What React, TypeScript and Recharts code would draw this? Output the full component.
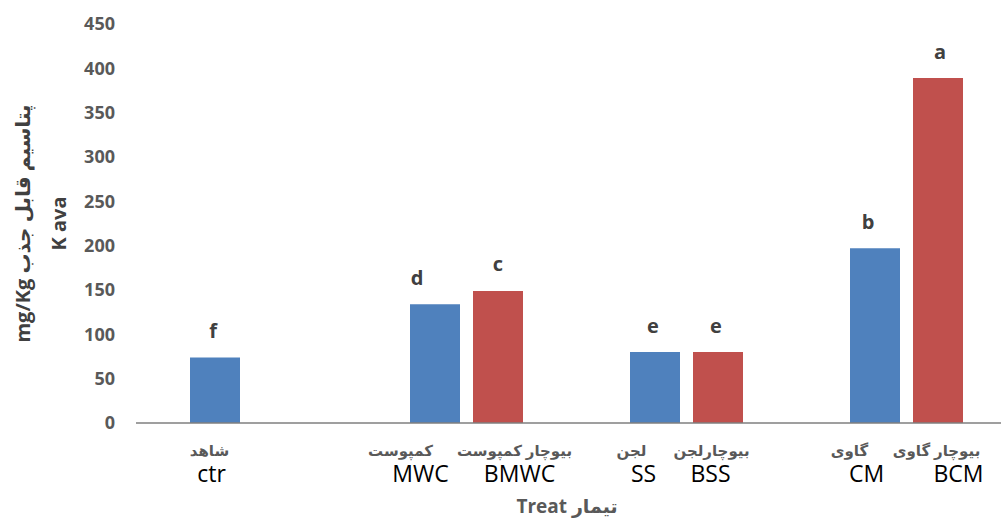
import { BarChart, Bar, XAxis, YAxis, LabelList } from 'recharts';

// treatment groups (blue = plain amendment, red = with biochar)
const groups = ['ctr', 'MWC', 'SS', 'CM'];
const blueValues = [74, 134, 80, 197];
const redValues: (number | null)[] = [null, 149, 80, 389];
const blueLetters = ['f', 'd', 'e', 'b'];
const redLetters = ['', 'c', 'e', 'a'];

const faBlue = ['شاهد', 'کمپوست', 'لجن', 'گاوی'];
const enBlue = ['ctr', 'MWC', 'SS', 'CM'];
const faRed = ['', 'بیوچار کمپوست', 'بیوچارلجن', 'بیوچار گاوی'];
const enRed = ['', 'BMWC', 'BSS', 'BCM'];

const yTicks = [0, 50, 100, 150, 200, 250, 300, 350, 400, 450];

// small hand nudges, like the manually moved labels of the original
const blueLetterDx = [-2, -18, -2, -7];
const redLetterDx = [0, -2, 2, 0];
const faBlueDx = [-5, -34, -23, -25];
const faRedDx = [0, 17, -6, -1];
const enBlueDx = [-3, -14, -11, -8];
const enRedDx = [0, 22, -7, 21];

const BLUE = '#4F81BD';
const RED = '#C0504D';
const SLOT = 31.5; // half of barSize + barGap
const FONT = '"Open Sans", "DejaVu Sans", sans-serif';

const data = groups.map((g, i) => ({
    group: g,
    blue: blueValues[i],
    red: redValues[i],
    blueLetter: blueLetters[i],
    redLetter: redLetters[i],
}));

const letterLabel = (dxs: number[]) => (props: any) => {
    const { x, y, width, value, index } = props;
    if (!value) return null;
    return (
        <text
            x={x + width / 2 + dxs[index]}
            y={y - 27}
            textAnchor="middle"
            dominantBaseline="central"
            fontFamily={FONT}
            fontWeight="bold"
            fontSize={20}
            fill="#404040"
        >
            {value}
        </text>
    );
};

const GroupTick = (props: any) => {
    const { x, y, payload } = props;
    const i = groups.indexOf(payload.value);
    if (i < 0) return null;
    const bx = x - SLOT;
    const rx = x + SLOT;
    return (
        <g>
            <text x={bx + faBlueDx[i]} y={y + 19} textAnchor="middle" dominantBaseline="central"
                fontFamily={FONT} fontWeight="bold" fontSize={15} fill="#595959">{faBlue[i]}</text>
            <text x={bx + enBlueDx[i]} y={y + 42} textAnchor="middle" dominantBaseline="central"
                fontFamily={FONT} fontSize={23} fill="#000">{enBlue[i]}</text>
            {faRed[i] && (
                <text x={rx + faRedDx[i]} y={y + 19} textAnchor="middle" dominantBaseline="central"
                    fontFamily={FONT} fontWeight="bold" fontSize={15} fill="#595959">{faRed[i]}</text>
            )}
            {enRed[i] && (
                <text x={rx + enRedDx[i]} y={y + 42} textAnchor="middle" dominantBaseline="central"
                    fontFamily={FONT} fontSize={23} fill="#000">{enRed[i]}</text>
            )}
        </g>
    );
};

const XTitle = (props: any) => {
    const { viewBox } = props;
    return (
        <text
            x={viewBox.x + viewBox.width / 2 - 9}
            y={506}
            textAnchor="middle"
            dominantBaseline="central"
            fontFamily={FONT}
            fontWeight="bold"
            fontSize={19}
            fill="#595959"
        >
            Treat تیمار
        </text>
    );
};

const YTitle = (props: any) => {
    const { viewBox } = props;
    const cy = viewBox.y + viewBox.height / 2;
    const x1 = viewBox.x - 14;
    const x2 = viewBox.x + 22;
    return (
        <g fontFamily={FONT} fontWeight="bold" fontSize={20} fill="#404040">
            <text x={x1} y={cy} textAnchor="middle" dominantBaseline="central"
                transform={`rotate(-90 ${x1} ${cy})`}>mg/Kg پتاسیم قابل جذب</text>
            <text x={x2} y={cy} textAnchor="middle" dominantBaseline="central"
                transform={`rotate(-90 ${x2} ${cy})`}>K ava</text>
        </g>
    );
};

const App = () => {
    return (
        <div style={{ position: 'absolute', left: 0, top: 0, width: 1001, height: 519, overflow: 'hidden', background: '#fff' }}>
            <BarChart
                width={1030}
                height={519}
                data={data}
                margin={{ top: 24, right: 14, bottom: 0, left: 36 }}
                barSize={50}
                barGap={13}
            >
                <XAxis
                    dataKey="group"
                    height={96}
                    tickLine={false}
                    axisLine={{ stroke: '#7f7f7f', strokeWidth: 1.5 }}
                    tick={<GroupTick />}
                    interval={0}
                    label={<XTitle />}
                />
                <YAxis
                    width={100}
                    domain={[0, 450]}
                    ticks={yTicks}
                    axisLine={false}
                    tickLine={false}
                    tickMargin={15}
                    tick={{ fill: '#595959', fontSize: 18, fontWeight: 'bold', fontFamily: FONT }}
                    label={<YTitle />}
                />
                <Bar dataKey="blue" fill={BLUE} isAnimationActive={false}>
                    <LabelList dataKey="blueLetter" content={letterLabel(blueLetterDx)} />
                </Bar>
                <Bar dataKey="red" fill={RED} isAnimationActive={false}>
                    <LabelList dataKey="redLetter" content={letterLabel(redLetterDx)} />
                </Bar>
            </BarChart>
        </div>
    );
};

export default App;
